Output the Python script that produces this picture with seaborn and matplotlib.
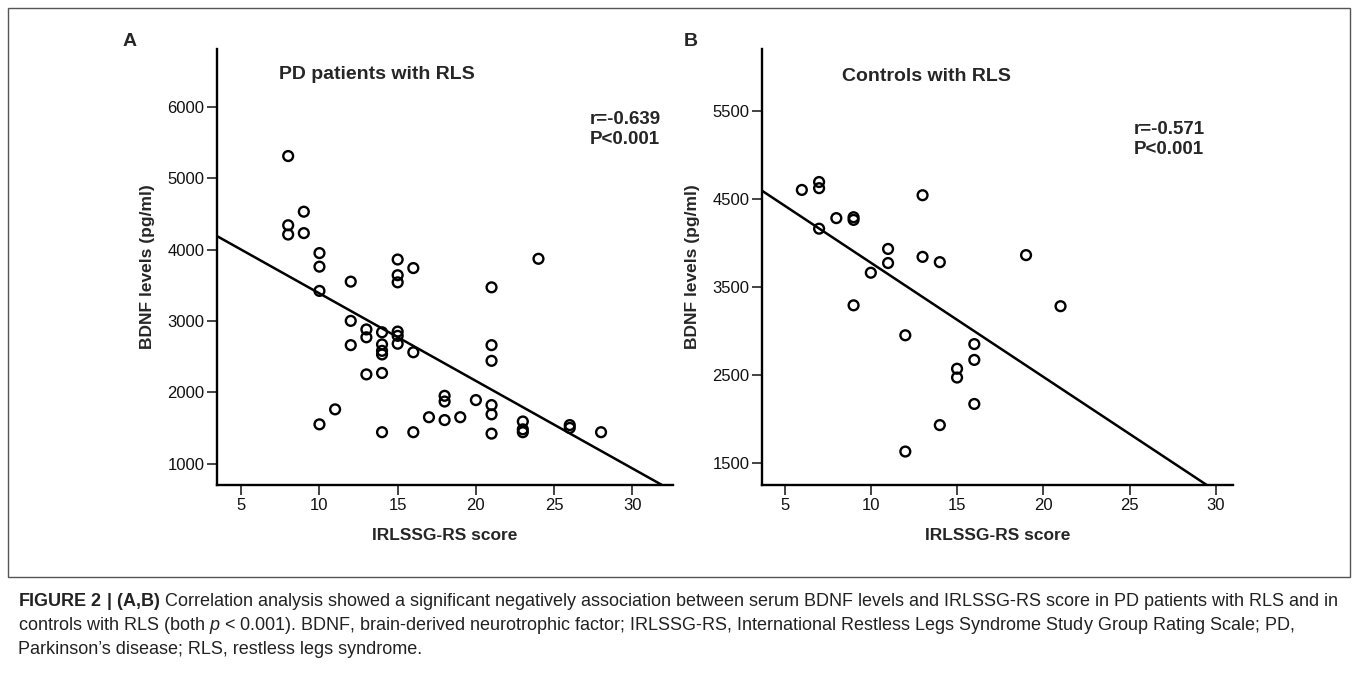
import pandas as pd
import matplotlib
matplotlib.use("Agg")
import matplotlib.pyplot as plt
from matplotlib.patches import Rectangle
import seaborn as sns

# ==========================================================
# Data
# ==========================================================

# Panel A : PD patients with RLS
pd_score = [8, 9, 8, 8, 9, 10, 10, 10, 10, 11, 12, 12, 12, 13, 13, 13,
            14, 14, 14, 14, 14, 14, 15, 15, 15, 15, 15, 15, 16, 16, 16,
            17, 18, 18, 18, 19, 20, 21, 21, 21, 21, 21, 21, 23, 23, 23,
            24, 26, 26, 28]
pd_bdnf = [5310, 4530, 4340, 4210, 4230, 3950, 3760, 3420, 1550, 1760,
           3550, 3000, 2660, 2880, 2770, 2250, 2840, 2670, 2580, 2530,
           2270, 1440, 3860, 3640, 3540, 2850, 2790, 2680, 3740, 2560,
           1440, 1650, 1950, 1870, 1610, 1650, 1890, 3470, 2660, 2440,
           1820, 1690, 1420, 1590, 1480, 1440, 3870, 1540, 1500, 1440]

# Panel B : Controls with RLS
ctrl_score = [6, 7, 7, 7, 8, 9, 9, 10, 11, 11, 13, 13, 14, 9, 12, 16,
              16, 15, 15, 16, 14, 12, 19, 21]
ctrl_bdnf = [4600, 4690, 4620, 4160, 4280, 4290, 4260, 3660, 3930, 3770,
             4540, 3840, 3780, 3290, 2950, 2850, 2670, 2570, 2470, 2170,
             1930, 1630, 3860, 3280]

panel_titles = ["PD patients with RLS", "Controls with RLS"]
panel_letters = ["A", "B"]
stats_text = ["r=-0.639\nP<0.001", "r=-0.571\nP<0.001"]
x_ticks = [5, 10, 15, 20, 25, 30]
y_ticks_a = [1000, 2000, 3000, 4000, 5000, 6000]
y_ticks_b = [1500, 2500, 3500, 4500, 5500]

caption_lines = [
    r"$\mathbf{FIGURE\ 2\ |\ (A{,}B)}$ Correlation analysis showed a significant negatively "
    "association between serum BDNF levels and IRLSSG-RS score in PD patients with RLS and in",
    r"controls with RLS (both $p$ < 0.001). BDNF, brain-derived neurotrophic factor; "
    "IRLSSG-RS, International Restless Legs Syndrome Study Group Rating Scale; PD,",
    "Parkinson\u2019s disease; RLS, restless legs syndrome.",
]

df_a = pd.DataFrame({"score": pd_score, "bdnf": pd_bdnf})
df_b = pd.DataFrame({"score": ctrl_score, "bdnf": ctrl_bdnf})

# ==========================================================
# Style
# ==========================================================

sns.set_style("ticks")
plt.rcParams["font.family"] = ["Liberation Sans", "DejaVu Sans"]
plt.rcParams["mathtext.fontset"] = "custom"
plt.rcParams["mathtext.rm"] = "Liberation Sans"
plt.rcParams["mathtext.it"] = "Liberation Sans:italic"
plt.rcParams["mathtext.bf"] = "Liberation Sans:bold"

W, H = 1358, 677
fig = plt.figure(figsize=(W / 100, H / 100), dpi=100)

ax_a = fig.add_axes([217 / W, 1 - 485 / H, 456 / W, 436 / H])
ax_b = fig.add_axes([762 / W, 1 - 485 / H, 471 / W, 436 / H])

# (axis, data, xlim, ylim, yticks, title y, stats x, stats y)
panels = [
    (ax_a, df_a, (3.45, 32.6), (700, 6810), y_ticks_a, 0.942, 0.818, 0.858),
    (ax_b, df_b, (3.69, 31.0), (1250, 6200), y_ticks_b, 0.938, 0.790, 0.835),
]

for i, (ax, df, xlim, ylim, yticks, ty, sx, sy) in enumerate(panels):
    ax.set_xlim(*xlim)
    ax.set_ylim(*ylim)

    sns.regplot(
        data=df,
        x="score",
        y="bdnf",
        ax=ax,
        ci=None,
        truncate=False,
        marker="o",
        color="black",
        scatter_kws=dict(s=50, facecolors="none", edgecolors="black",
                         linewidths=1.7, alpha=1, zorder=3),
        line_kws=dict(color="black", lw=1.8),
    )

    ax.set_xlim(*xlim)
    ax.set_ylim(*ylim)
    ax.set_xticks(x_ticks)
    ax.set_yticks(yticks)

    sns.despine(ax=ax)
    for side in ["left", "bottom"]:
        ax.spines[side].set_linewidth(1.7)
        ax.spines[side].set_color("black")

    ax.tick_params(axis="both", direction="out", length=7, width=1.1,
                   labelsize=12, colors="#111111", pad=2)

    ax.set_xlabel("IRLSSG-RS score", fontsize=12.5, fontweight="bold",
                  labelpad=11)
    ax.set_ylabel("BDNF levels (pg/ml)", fontsize=12.5, fontweight="bold",
                  labelpad=9)

    ax.text(0.35, ty, panel_titles[i], transform=ax.transAxes,
            ha="center", va="center", fontsize=14, fontweight="bold")

    ax.text(sx, sy, stats_text[i], transform=ax.transAxes,
            ha="left", va="top", fontsize=13.5, fontweight="bold",
            linespacing=1.2)

# panel letters
fig.text(130 / W, 1 - 42 / H, panel_letters[0], ha="center", va="center",
         fontsize=14, fontweight="bold")
fig.text(691 / W, 1 - 42 / H, panel_letters[1], ha="center", va="center",
         fontsize=14, fontweight="bold")

# frame around the figure panel
fig.add_artist(Rectangle((8 / W, 1 - 577 / H), 1342 / W, 569 / H,
                         transform=fig.transFigure, fill=False,
                         edgecolor="#555555", lw=1.0))

# caption, font size fitted so the first line spans the frame width
renderer = fig.canvas.get_renderer()
probe = fig.text(0, 0, caption_lines[0], fontsize=10)
probe_w = probe.get_window_extent(renderer=renderer).width
probe.remove()
cap_size = 10 * 1322 / probe_w

for k, line in enumerate(caption_lines):
    fig.text(18 / W, 1 - (598 + 25 * k) / H, line, ha="left",
             va="center_baseline", fontsize=cap_size, color="#222222")

fig.savefig("out.png", dpi=100)
